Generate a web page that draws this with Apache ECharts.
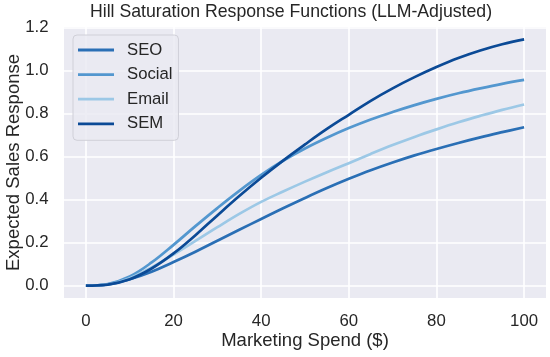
<!DOCTYPE html>
<html>
<head>
<meta charset="utf-8">
<script src="https://cdn.jsdelivr.net/npm/echarts@6/dist/echarts.min.js"></script>
<style>
html,body{margin:0;padding:0;background:#fff;}
#chart{width:550px;height:357px;}
</style>
</head>
<body>
<div id="chart"></div>
<script>
// ---- data ----
const spend = [0,5,10,15,20,25,30,35,40,45,50,55,60,65,70,75,80,85,90,95,100];
const seo    = [0,0.006,0.030,0.065,0.110,0.158,0.209,0.260,0.310,0.360,0.408,0.454,0.497,0.537,0.573,0.606,0.636,0.664,0.690,0.714,0.737];
const social = [0,0.008,0.043,0.108,0.190,0.277,0.361,0.441,0.515,0.581,0.638,0.688,0.733,0.773,0.808,0.840,0.869,0.895,0.918,0.939,0.957];
const email  = [0,0.006,0.035,0.085,0.145,0.208,0.272,0.334,0.390,0.438,0.484,0.528,0.570,0.613,0.654,0.692,0.727,0.760,0.790,0.818,0.843];
const sem    = [0,0.005,0.030,0.080,0.150,0.235,0.327,0.417,0.502,0.582,0.657,0.729,0.795,0.860,0.918,0.970,1.017,1.059,1.094,1.123,1.146];
const seriesNames = ['SEO','Social','Email','SEM'];
const xTicks = [0,20,40,60,80,100];
const yTicks = [0,0.2,0.4,0.6,0.8,1.0,1.2];

const colors = ['#2a6fb5','#5397cf','#9cc8e6','#0b4a96'];
const dataSets = [seo, social, email, sem];
const FONT = '"Liberation Sans", Arial, sans-serif';
const TXT = '#262626';
const legendLine = 'path://M0,0 M0,5.6 L36,5.6 L36,8.4 L0,8.4 Z M36,14';

const chart = echarts.init(document.getElementById('chart'), null, {renderer:'canvas'});
chart.setOption({
  animation: false,
  backgroundColor: '#ffffff',
  title: {
    text: 'Hill Saturation Response Functions (LLM-Adjusted)',
    left: 291, top: 3, textAlign: 'center', padding: 0,
    textStyle: {fontFamily: FONT, fontSize: 17.7, fontWeight: 'normal', color: TXT}
  },
  grid: {
    left: 64, top: 27, width: 482, height: 271,
    outerBoundsMode: 'none', containLabel: false,
    show: true, backgroundColor: '#EAEAF2', borderWidth: 0
  },
  legend: {
    data: seriesNames,
    orient: 'vertical',
    left: 73, top: 35,
    padding: [6.5, 6, 8, 5],
    icon: legendLine,
    itemWidth: 36, itemHeight: 14, itemGap: 7.6,
    backgroundColor: 'rgba(234,234,242,0.85)',
    borderColor: '#d0d0d8', borderWidth: 1, borderRadius: 4,
    textStyle: {fontFamily: FONT, fontSize: 16.7, color: TXT, padding: [0,0,0,8]}
  },
  xAxis: {
    type: 'value', min: -5, max: 105,
    name: 'Marketing Spend ($)', nameLocation: 'middle', nameGap: 33.5,
    nameMoveOverlap: false,
    nameTextStyle: {fontFamily: FONT, fontSize: 18.5, color: TXT},
    axisLine: {show: false},
    axisTick: {show: false, customValues: xTicks},
    axisLabel: {customValues: xTicks, fontFamily: FONT, fontSize: 16.8, color: TXT, margin: 14.5},
    splitLine: {show: true, lineStyle: {color: '#ffffff', width: 1.6}}
  },
  yAxis: {
    type: 'value', min: -0.0573, max: 1.2033,
    name: 'Expected Sales Response', nameLocation: 'middle', nameGap: 41,
    nameMoveOverlap: false,
    nameTextStyle: {fontFamily: FONT, fontSize: 18.5, color: TXT},
    axisLine: {show: false},
    axisTick: {show: false, customValues: yTicks},
    axisLabel: {customValues: yTicks, fontFamily: FONT, fontSize: 16.8, color: TXT, margin: 15.5,
      formatter: v => v.toFixed(1)},
    splitLine: {show: true, lineStyle: {color: '#ffffff', width: 1.6}}
  },
  series: seriesNames.map((n, i) => ({
    name: n, type: 'line',
    data: spend.map((x, j) => [x, dataSets[i][j]]),
    smooth: 0.4, symbol: 'none', showSymbol: false,
    lineStyle: {color: colors[i], width: 2.7},
    itemStyle: {color: colors[i]},
    z: 2
  }))
});
</script>
</body>
</html>
